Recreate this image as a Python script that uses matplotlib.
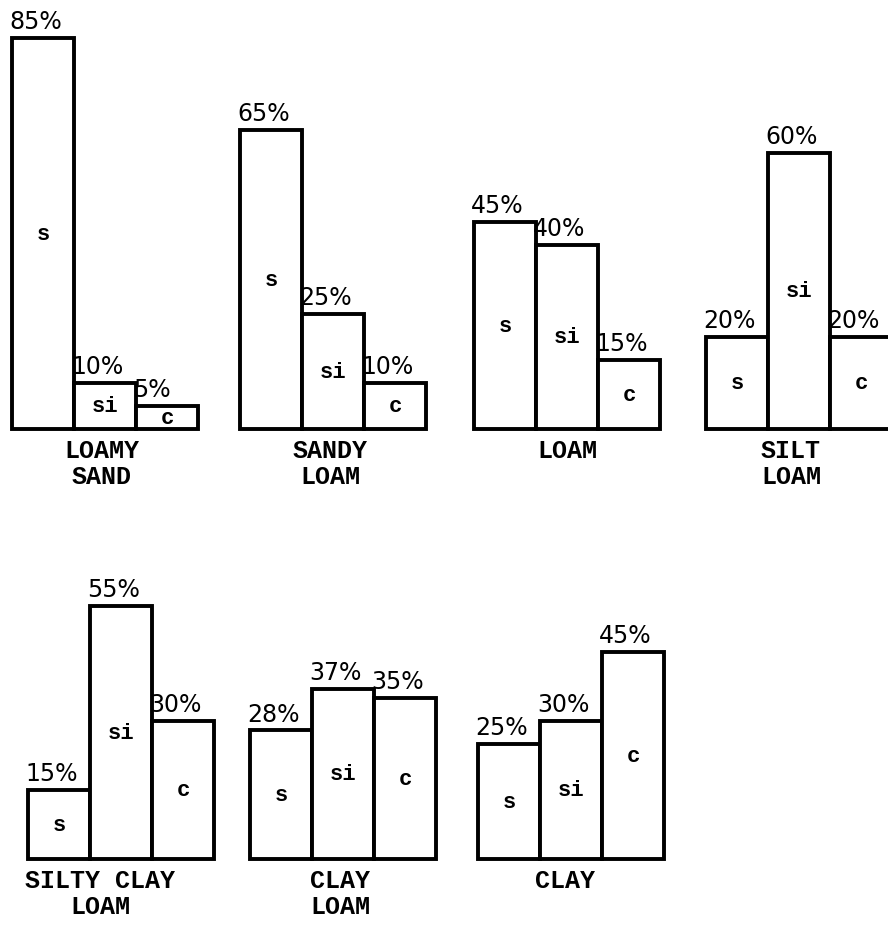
import numpy as np
import matplotlib
matplotlib.use("Agg")
import matplotlib.pyplot as plt

# soil texture classes and their sand / silt / clay shares (%)
top_names = ["LOAMY\nSAND", "SANDY\nLOAM", "LOAM", "SILT\nLOAM"]
top_sand = [85, 65, 45, 20]
top_silt = [10, 25, 40, 60]
top_clay = [5, 10, 15, 20]

bottom_names = ["SILTY CLAY\nLOAM", "CLAY\nLOAM", "CLAY"]
bottom_sand = [15, 28, 25]
bottom_silt = [55, 37, 30]
bottom_clay = [30, 35, 45]

bar_tags = ["s", "si", "c"]

W, H = 888, 937
PX_PER_PCT = 4.6
BAR_W = 62

fig = plt.figure(figsize=(W / 100, H / 100), dpi=100)
fig.patch.set_facecolor("white")

label_font = dict(family="Liberation Mono", weight="bold")
pct_font = dict(family="DejaVu Sans")


def draw_row(baseline, room, names, sand, silt, clay, lefts, name_dx):
    ax = fig.add_axes([0, 1 - baseline / H, 1, room / H])
    ax.set_xlim(0, W)
    ax.set_ylim(0, room / PX_PER_PCT)
    ax.axis("off")
    for i, name in enumerate(names):
        vals = [sand[i], silt[i], clay[i]]
        xs = lefts[i] + BAR_W * np.arange(3)
        ax.bar(xs, vals, width=BAR_W, align="edge", color="white",
               edgecolor="black", linewidth=2.8, clip_on=False)
        for x, v, tag in zip(xs, vals, bar_tags):
            ax.text(x + BAR_W / 2, v / 2, tag, ha="center", va="center",
                    fontsize=16, **label_font)
            ax.text(x - 3, v + 1.0, f"{v}%", ha="left", va="bottom",
                    fontsize=17, clip_on=False, **pct_font)
        ax.text(lefts[i] + 1.5 * BAR_W + name_dx[i], -2.0, name,
                ha="center", va="top", fontsize=18, linespacing=1.1,
                clip_on=False, **label_font)


draw_row(430, 430, top_names, top_sand, top_silt, top_clay,
         [12, 240, 474, 706], [-3, -3, 0, -8])
draw_row(860, 300, bottom_names, bottom_sand, bottom_silt, bottom_clay,
         [28, 250, 478], [-21, -3, -6])

fig.savefig("out.png", dpi=100, facecolor="white")
